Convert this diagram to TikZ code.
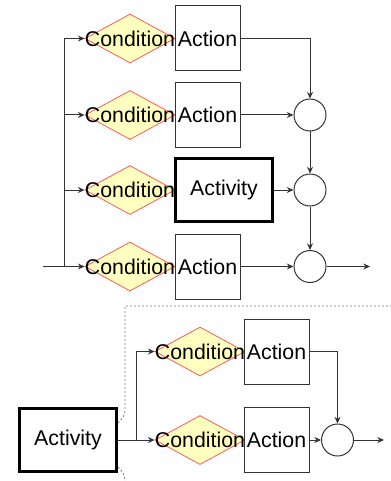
\documentclass[tikz,border=0pt]{standalone}
\usepackage{fontspec}
\setmainfont{Liberation Sans}
\usetikzlibrary{shapes.geometric,arrows.meta}
\definecolor{condfill}{RGB}{255,255,192}
\definecolor{condline}{RGB}{255,90,90}
\definecolor{dashgray}{RGB}{120,120,120}
\tikzset{
  every node/.style={font=\fontsize{16}{19}\selectfont},
  cond/.style={diamond, draw=condline, fill=condfill, line width=0.6pt, minimum width=67.5pt, minimum height=36.75pt, inner sep=0pt, label={center:Condition}},
  actbox/.style={rectangle, draw=black!80, line width=0.75pt, minimum width=48.75pt, minimum height=48.75pt, inner sep=0pt, fill=white},
  activitybox/.style={rectangle, draw=black, line width=2.6pt, minimum width=73pt, minimum height=47.5pt, inner sep=0pt, fill=white},
  junction/.style={circle, draw=black!80, line width=0.75pt, minimum size=24pt, inner sep=0pt, fill=white},
  conn/.style={draw=black!80, line width=0.75pt, -{Stealth[length=5pt,width=4.5pt]}},
  plain/.style={draw=black!80, line width=0.75pt},
  groupline/.style={draw=dashgray, line width=0.6pt, dash pattern=on 1.5pt off 1.5pt}
}
\begin{document}
\begin{tikzpicture}[x=0.75pt,y=-0.75pt]
\useasboundingbox (0,0) rectangle (391,481);
% top section
\node[cond] (c1) at (130,38.5) {};
\node[cond] (c2) at (130,115) {};
\node[cond] (c3) at (130,190) {};
\node[cond] (c4) at (130,266.5) {};
\node[actbox] (a1) at (207.5,38.5) {Action};
\node[actbox] (a2) at (207.5,115) {Action};
\node[activitybox] (act1) at (224,190) {Activity};
\node[actbox] (a4) at (207.5,266.5) {Action};
\node[junction] (j2) at (310,115) {};
\node[junction] (j3) at (310,190) {};
\node[junction] (j4) at (310,266.5) {};
\coordinate (in) at (43,266.5);
\coordinate (split) at (64.5,266.5);
\coordinate (out) at (370,266.5);
\path[conn] (in) -- (c4.west);
\path[plain] (split) -- (64.5,38.5);
\path[conn] (64.5,38.5) -- (c1.west);
\path[conn] (64.5,115) -- (c2.west);
\path[conn] (64.5,190) -- (c3.west);
\path[conn] (a1.east) -| (j2.north);
\path[conn] (a2.east) -- (j2.west);
\path[conn] (act1.east) -- (j3.west);
\path[conn] (a4.east) -- (j4.west);
\path[conn] (j2.south) -- (j3.north);
\path[conn] (j3.south) -- (j4.north);
\path[conn] (j4.east) -- (out);
% bottom section
\path[groupline] (118,423) .. controls (123,418) and (125,415) .. (125,410) -- (125,306) -- (391,306);
\path[groupline] (118,467) .. controls (122,471) and (125,475) .. (125,481);
\node[activitybox] (act2) at (68,440) {Activity};
\node[cond] (c5) at (200,351.5) {};
\node[cond] (c6) at (200,440) {};
\node[actbox] (a5) at (276.5,351.5) {Action};
\node[actbox] (a6) at (276.5,440) {Action};
\node[junction] (j5) at (337.5,440) {};
\coordinate (out2) at (384,440);
\path[conn] (act2.east) -- (c6.west);
\path[conn] (act2.east) -- (136,440) |- (c5.west);
\path[conn] (a5.east) -| (j5.north);
\path[conn] (a6.east) -- (j5.west);
\path[conn] (j5.east) -- (out2);
\end{tikzpicture}
\end{document}
